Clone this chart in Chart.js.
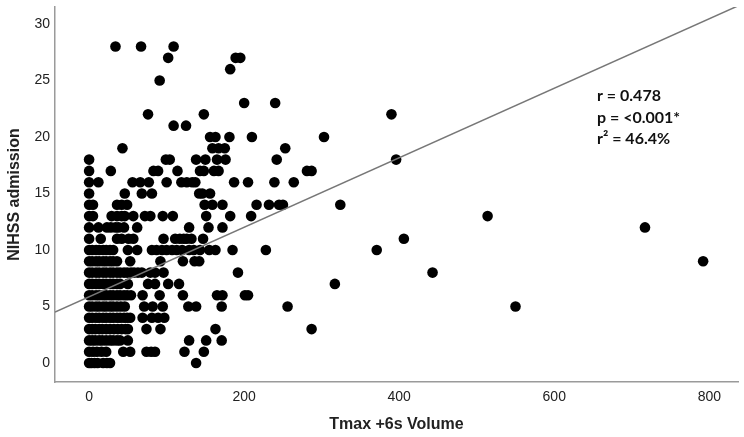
<!DOCTYPE html>
<html>
<head>
<meta charset="utf-8">
<script src="https://cdn.jsdelivr.net/npm/chart.js@4.4.1/dist/chart.umd.min.js"></script>
<style>
  html, body { margin: 0; padding: 0; background: #fff; }
  #wrap { width: 744px; height: 437px; }
</style>
</head>
<body>
<div id="wrap"><canvas id="scatterChart" width="744" height="437"></canvas></div>
<script>
// NIHSS admission score of each row of dots
const nihssScores = [0, 1, 2, 3, 4, 5, 6, 7, 8, 9, 10, 11, 12, 13, 14, 15, 16, 17, 18, 19, 20, 21, 22, 23, 25, 26, 27, 28];

// Tmax +6s volumes of the patients on each row (same order as nihssScores)
const tmaxVolumes = [
  [0, 3, 7, 11, 18, 23, 27, 138],
  [0, 5, 10, 16, 22, 44, 53, 74, 80, 85, 123, 148],
  [0, 4, 8, 13, 17, 22, 27, 31, 36, 40, 50, 129, 151, 171],
  [0, 4, 8, 13, 17, 22, 27, 32, 37, 42, 47, 50, 74, 92, 163, 287],
  [0, 4, 9, 13, 18, 22, 27, 31, 36, 40, 45, 49, 53, 69, 81, 89, 97],
  [0, 4, 9, 13, 18, 22, 27, 31, 36, 41, 46, 71, 82, 95, 128, 138, 171, 256, 550],
  [0, 4, 9, 13, 18, 22, 27, 31, 36, 40, 45, 49, 54, 69, 91, 121, 165, 172, 201, 205],
  [0, 4, 9, 13, 18, 22, 27, 31, 36, 40, 50, 76, 85, 102, 116, 317],
  [0, 4, 9, 13, 18, 22, 27, 31, 36, 40, 45, 49, 54, 58, 63, 68, 79, 85, 96, 192, 443],
  [0, 4, 9, 13, 18, 22, 27, 31, 36, 53, 92, 121, 136, 142, 792],
  [0, 4, 9, 13, 18, 22, 27, 31, 50, 62, 81, 87, 94, 100, 107, 113, 120, 129, 135, 143, 155, 163, 185, 228, 371],
  [0, 15, 36, 42, 51, 57, 96, 111, 117, 122, 126, 132, 147, 406],
  [0, 12, 23, 28, 34, 38, 45, 62, 129, 154, 172, 717],
  [0, 5, 29, 36, 42, 46, 57, 72, 79, 95, 108, 151, 182, 209, 514],
  [0, 5, 36, 42, 49, 149, 159, 172, 216, 232, 245, 250, 324],
  [0, 46, 68, 81, 142, 146, 156],
  [0, 12, 56, 66, 77, 100, 119, 126, 133, 137, 187, 205, 239, 264],
  [0, 28, 83, 89, 114, 143, 148, 161, 167, 281, 287],
  [0, 99, 104, 138, 150, 165, 176, 242, 396],
  [43, 159, 167, 175, 253],
  [156, 163, 181, 210, 303],
  [109, 125],
  [76, 148, 390],
  [200, 240],
  [91],
  [182],
  [102, 189, 195],
  [34, 67, 109]
];

// fit line end points
const fitLineX = [-44, 837];
const fitLineY = [4.5, 31.6];

const xTicks = [0, 200, 400, 600, 800];
const yTicks = [0, 5, 10, 15, 20, 25, 30];
const statLines = ["r = 0.478", "p = <0.001*", "r\u00B2 = 46.4%"];

const points = [];
nihssScores.forEach((score, i) => {
  tmaxVolumes[i].forEach((v) => points.push({ x: v, y: score }));
});

const fitLine = fitLineX.map((x, i) => ({ x, y: fitLineY[i] }));

// r / p / r2 box on the right
const statsPlugin = {
  id: "statsText",
  afterDatasetsDraw(chart) {
    const ctx = chart.ctx;
    ctx.save();
    ctx.fillStyle = "#111";
    ctx.font = "bold 16px Lato, 'Open Sans', sans-serif";
    ctx.textAlign = "left";
    ctx.textBaseline = "middle";
    statLines.forEach((line, i) => {
      ctx.fillText(line, 597, 96 + i * 21.5);
    });
    ctx.restore();
  },
};

const tickFont = { family: "'Liberation Sans', Arial, sans-serif", size: 14 };
const titleFont = { family: "'Liberation Sans', Arial, sans-serif", size: 16, weight: "bold" };

new Chart(document.getElementById("scatterChart"), {
  type: "scatter",
  data: {
    datasets: [
      {
        type: "line",
        data: fitLine,
        borderColor: "#777",
        borderWidth: 1.5,
        pointRadius: 0,
        fill: false,
        tension: 0,
      },
      {
        data: points,
        backgroundColor: "#000",
        borderWidth: 0,
        pointRadius: 5.3,
        pointHoverRadius: 5.3,
      },
    ],
  },
  options: {
    responsive: false,
    animation: false,
    devicePixelRatio: 1,
    layout: { autoPadding: false, padding: { top: 7, right: 6, left: 0, bottom: 0 } },
    plugins: {
      legend: { display: false },
      tooltip: { enabled: false },
    },
    scales: {
      x: {
        type: "linear",
        min: -44,
        max: 837,
        afterBuildTicks: (axis) => {
          axis.ticks = xTicks.map((v) => ({ value: v }));
        },
        afterFit: (axis) => {
          axis.height = 55;
          axis.paddingLeft = 0;
          axis.paddingRight = 0;
        },
        grid: { display: false, drawTicks: false },
        border: { display: true, color: "#9a9a9a", width: 1.5 },
        ticks: { font: tickFont, color: "#222", padding: 7, maxRotation: 0 },
        title: {
          display: true,
          text: "Tmax +6s Volume",
          font: titleFont,
          color: "#222",
          padding: { top: 0, bottom: 3 },
        },
      },
      y: {
        type: "linear",
        min: -1.68,
        max: 31.5,
        afterBuildTicks: (axis) => {
          axis.ticks = yTicks.map((v) => ({ value: v }));
        },
        afterFit: (axis) => {
          axis.width = 55;
          axis.paddingTop = 0;
          axis.paddingBottom = 0;
        },
        grid: { display: false, drawTicks: false },
        border: { display: true, color: "#9a9a9a", width: 1.5 },
        ticks: { font: tickFont, color: "#222", padding: 5 },
        title: {
          display: true,
          text: "NIHSS admission",
          font: titleFont,
          color: "#222",
          padding: { top: 5, bottom: 0 },
        },
      },
    },
  },
  plugins: [statsPlugin],
});
</script>
</body>
</html>
